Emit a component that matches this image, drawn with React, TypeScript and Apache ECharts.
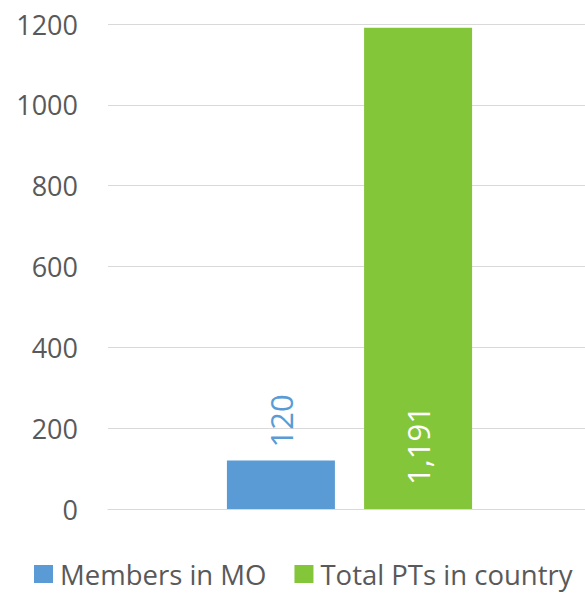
import React, { useEffect, useRef } from "react";
import * as echarts from "echarts";

const categories: string[] = [""];
const seriesNames: string[] = ["Members in MO", "Total PTs in country"];
const membersInMO: number[] = [120];
const totalPTs: number[] = [1191];
const yTicks = { min: 0, max: 1200, interval: 200 };

const FONT = "'Open Sans', 'Noto Sans', sans-serif";
const BLUE = "#5B9BD5";
const GREEN = "#84C63A";
const TEXT = "#595959";
const GRID = "#D9D9D9";

export default function App() {
  const ref = useRef<HTMLDivElement>(null);
  useEffect(() => {
    if (!ref.current) return;
    const chart = echarts.init(ref.current, undefined, { renderer: "svg" });
    chart.setOption({
      animation: false,
      textStyle: { fontFamily: FONT },
      grid: { left: 108, right: 0, top: 24, bottom: 84, containLabel: false },
      legend: {
        left: 29,
        bottom: 0,
        itemWidth: 19,
        itemHeight: 18,
        itemGap: 28,
        icon: "rect",
        data: seriesNames,
        textStyle: { fontSize: 27.5, color: TEXT, fontFamily: FONT, padding: [0, 0, 0, 2] },
      },
      xAxis: {
        type: "category",
        data: categories,
        axisLine: { show: true, lineStyle: { color: GRID, width: 1 } },
        axisTick: { show: false },
        axisLabel: { show: false },
      },
      yAxis: {
        type: "value",
        min: yTicks.min,
        max: yTicks.max,
        interval: yTicks.interval,
        axisLine: { show: false },
        axisTick: { show: false },
        axisLabel: {
          fontSize: 27,
          color: TEXT,
          margin: 30,
          fontFamily: FONT,
          formatter: (v: number) => String(v),
        },
        splitLine: { lineStyle: { color: GRID, width: 1 } },
      },
      series: [
        {
          name: seriesNames[0],
          type: "bar",
          data: membersInMO,
          barWidth: 108,
          barGap: "27%",
          itemStyle: { color: BLUE },
          label: {
            show: true,
            position: "top",
            rotate: 90,
            align: "left",
            verticalAlign: "middle",
            distance: 13,
            fontSize: 31,
            color: BLUE,
            fontFamily: FONT,
            formatter: (p: any) => p.value.toLocaleString("en-US"),
          },
        },
        {
          name: seriesNames[1],
          type: "bar",
          data: totalPTs,
          barWidth: 108,
          barGap: "27%",
          itemStyle: { color: GREEN },
          label: {
            show: true,
            position: "insideBottom",
            rotate: 90,
            align: "left",
            verticalAlign: "middle",
            distance: 24,
            fontSize: 31,
            color: "#FFFFFF",
            fontFamily: FONT,
            formatter: (p: any) => p.value.toLocaleString("en-US"),
          },
        },
      ],
    });
    return () => chart.dispose();
  }, []);
  return (
    <div
      ref={ref}
      style={{ position: "fixed", left: 0, top: 0, width: 591, height: 593, background: "#fff" }}
    />
  );
}
